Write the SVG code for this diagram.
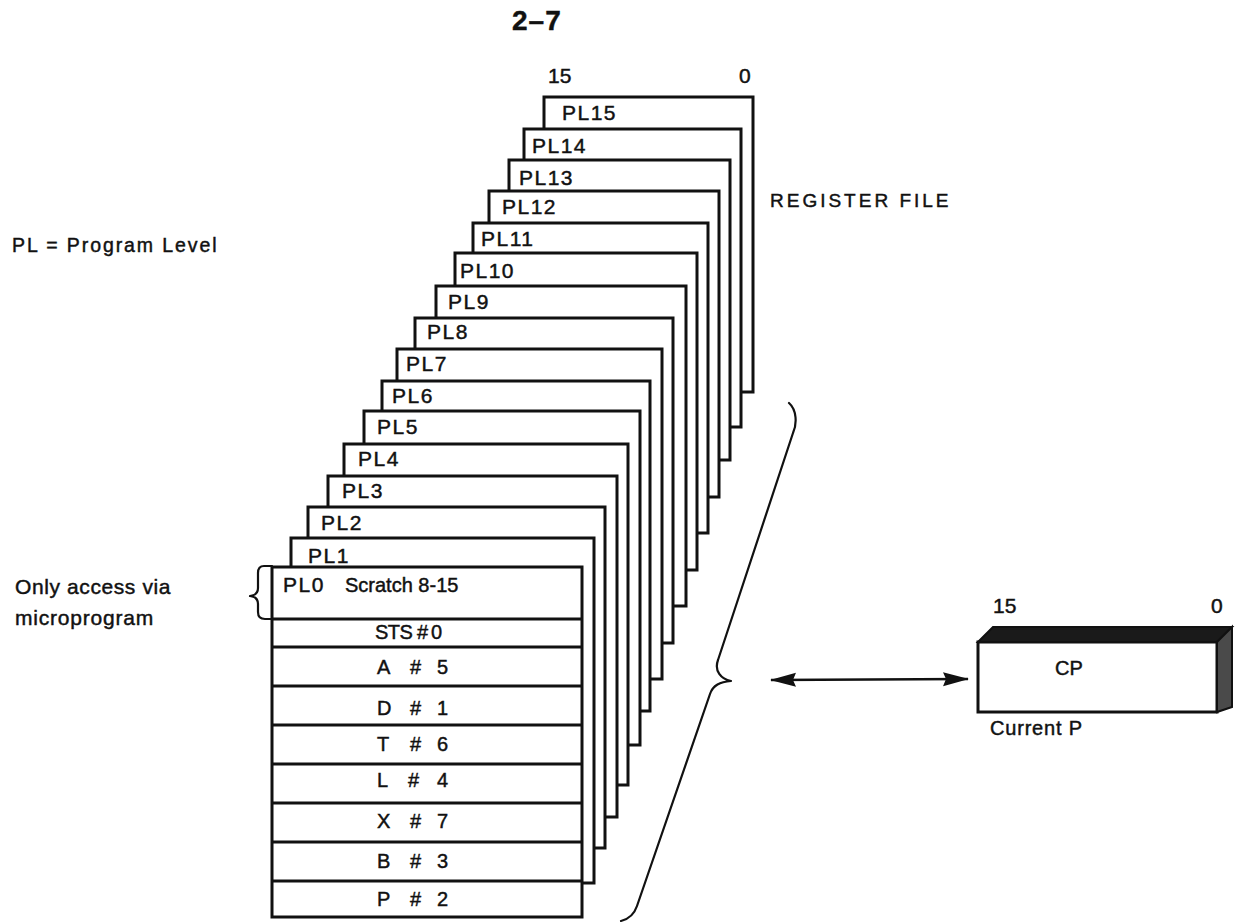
<svg xmlns="http://www.w3.org/2000/svg" width="1241" height="923" viewBox="0 0 1241 923">
<defs>
<style>
.t{font-family:"Liberation Sans",Arial,sans-serif;fill:#111;stroke:#111;stroke-width:0.45}
.pl{font-size:21px;letter-spacing:1.5px}
.fr{fill:#fff;stroke:#111;stroke-width:3}
.ln{stroke:#111;stroke-width:3;fill:none}
.thin{stroke:#111;stroke-width:2.2;fill:none;stroke-linecap:round;stroke-linejoin:round}
.rw{font-size:20px}
</style>
<marker id="ah" viewBox="0 0 26 16" refX="25" refY="8" markerWidth="26" markerHeight="16" markerUnits="userSpaceOnUse" orient="auto-start-reverse">
<path d="M0,1 L26,8 L0,15 L3,8 Z" fill="#111"/>
</marker>
</defs>
<rect width="1241" height="923" fill="#fff"/>
<text class="t" x="512" y="30" font-size="28" font-weight="bold" letter-spacing="1">2–7</text>
<g id="bits-top">
<text class="t" x="548" y="83" font-size="21">15</text>
<text class="t" x="739" y="83" font-size="21">0</text>
</g>
<text id="register-file" class="t" x="770" y="207" font-size="19" letter-spacing="3">REGISTER FILE</text>
<text id="legend" class="t" x="12" y="252" font-size="19.5" letter-spacing="1.9">PL = Program Level</text>
<g id="note">
<text class="t" x="15" y="594" font-size="21" letter-spacing="0.6">Only access via</text>
<text class="t" x="15" y="625" font-size="21" letter-spacing="0.8">microprogram</text>
</g>
<g id="PL15"><rect class="fr" x="544" y="97" width="209" height="295"/><text class="t pl" x="562" y="120">PL15</text></g>
<g id="PL14"><rect class="fr" x="524" y="129" width="217" height="298"/><text class="t pl" x="532" y="153">PL14</text></g>
<g id="PL13"><rect class="fr" x="509" y="160" width="221" height="300"/><text class="t pl" x="519" y="185">PL13</text></g>
<g id="PL12"><rect class="fr" x="489" y="191" width="230" height="306"/><text class="t pl" x="502" y="214">PL12</text></g>
<g id="PL11"><rect class="fr" x="473" y="223" width="235" height="310"/><text class="t pl" x="481" y="246">PL11</text></g>
<g id="PL10"><rect class="fr" x="455" y="253" width="242" height="317"/><text class="t pl" x="460" y="278">PL10</text></g>
<g id="PL9"><rect class="fr" x="436" y="286" width="250" height="320"/><text class="t pl" x="448" y="309">PL9</text></g>
<g id="PL8"><rect class="fr" x="415" y="318" width="258" height="325"/><text class="t pl" x="427" y="339">PL8</text></g>
<g id="PL7"><rect class="fr" x="397" y="349" width="265" height="330"/><text class="t pl" x="406" y="371">PL7</text></g>
<g id="PL6"><rect class="fr" x="382" y="381" width="268" height="330"/><text class="t pl" x="392" y="403">PL6</text></g>
<g id="PL5"><rect class="fr" x="364" y="411" width="276" height="334"/><text class="t pl" x="377" y="434">PL5</text></g>
<g id="PL4"><rect class="fr" x="344" y="444" width="284" height="341"/><text class="t pl" x="358" y="466">PL4</text></g>
<g id="PL3"><rect class="fr" x="328" y="476" width="289" height="341"/><text class="t pl" x="342" y="498">PL3</text></g>
<g id="PL2"><rect class="fr" x="308" y="507" width="297" height="341"/><text class="t pl" x="321" y="530">PL2</text></g>
<g id="PL1"><rect class="fr" x="291" y="538" width="303" height="345"/><text class="t pl" x="308" y="563">PL1</text></g>
<g id="PL0">
<rect class="fr" x="272" y="567" width="310" height="350"/>
<text class="t pl" x="283" y="592">PL0</text>
<text class="t rw" x="345" y="592">Scratch  8-15</text>
<path class="ln" d="M272 619H582M272 647H582M272 686H582M272 725H582M272 764H582M272 803H582M272 842H582M272 881H582"/>
<text class="t rw" x="375" y="639" letter-spacing="-0.5">STS</text><text class="t rw" x="417" y="639">#</text><text class="t rw" x="431" y="639">0</text>
<text class="t rw" x="377" y="674">A</text><text class="t rw" x="410" y="674">#</text><text class="t rw" x="437" y="674">5</text>
<text class="t rw" x="377" y="715">D</text><text class="t rw" x="410" y="715">#</text><text class="t rw" x="437" y="715">1</text>
<text class="t rw" x="377" y="751">T</text><text class="t rw" x="410" y="751">#</text><text class="t rw" x="437" y="751">6</text>
<text class="t rw" x="377" y="787">L</text><text class="t rw" x="408" y="787">#</text><text class="t rw" x="437" y="787">4</text>
<text class="t rw" x="377" y="828">X</text><text class="t rw" x="410" y="828">#</text><text class="t rw" x="437" y="828">7</text>
<text class="t rw" x="377" y="868">B</text><text class="t rw" x="410" y="868">#</text><text class="t rw" x="437" y="868">3</text>
<text class="t rw" x="377" y="906">P</text><text class="t rw" x="410" y="906">#</text><text class="t rw" x="437" y="906">2</text>
</g>
<g id="brace-left">
<path class="thin" d="M272 566 L264 566 Q258 566 258 573 L258 588 Q258 595 250 596 Q258 597 258 604 L258 612 Q258 619 265 619 L272 619"/>
</g>
<g id="brace-right">
<path class="thin" d="M789 403 C797 410 797 424 793 433 L718 660 C714 671 721 679 731 681 C720 682 713 685 710 694 L637 906 C634 915 629 919 621 921"/>
</g>
<g id="CP">
<rect x="978" y="642" width="239" height="70" fill="#fff" stroke="#111" stroke-width="3"/>
<polygon points="978,642 993,627 1232,627 1217,642" fill="#1a1a1a" stroke="#111" stroke-width="2"/>
<polygon points="1217,642 1232,627 1232,707 1217,712" fill="#4a4a4a" stroke="#111" stroke-width="2"/>
<text class="t" x="993" y="613" font-size="21">15</text>
<text class="t" x="1211" y="613" font-size="21">0</text>
<text class="t" x="1055" y="675" font-size="20">CP</text>
<text class="t" x="990" y="735" font-size="20" letter-spacing="0.8">Current P</text>
</g>
<g id="connectors">
<line x1="771" y1="680" x2="968" y2="679" stroke="#111" stroke-width="2.5" marker-start="url(#ah)" marker-end="url(#ah)"/>
</g>
</svg>
